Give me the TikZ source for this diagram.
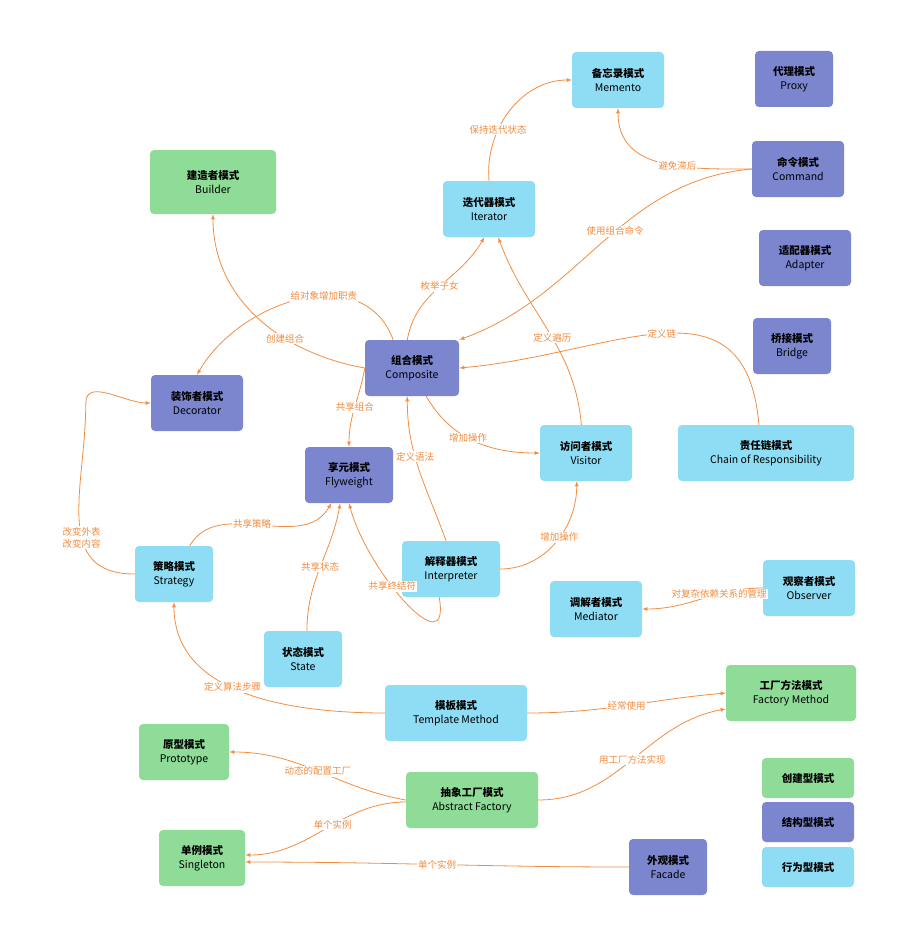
\documentclass[tikz,border=0pt]{standalone}
\usepackage{fontspec}
\setmainfont{Noto Sans CJK SC}
\usetikzlibrary{positioning, calc}
\definecolor{cgreen}{HTML}{8EDC98}
\definecolor{cpurple}{HTML}{7B86CF}
\definecolor{cblue}{HTML}{8EDDF5}
\definecolor{corange}{HTML}{F28C40}
\newcommand{\pat}[2]{\textbf{#1}\\#2}
\begin{document}
\begin{tikzpicture}[x=1pt, y=-1pt,
  box/.style={rectangle, rounded corners=4pt, align=center, minimum height=56pt, inner sep=2pt, font=\fontsize{10.5}{14}\selectfont},
  cre/.style={box, fill=cgreen},
  str/.style={box, fill=cpurple},
  beh/.style={box, fill=cblue},
  lbl/.style={fill=white, inner sep=1pt, font=\fontsize{9.5}{12}\selectfont},
  link/.style={corange, thick, -latex}]
\useasboundingbox (0,0) rectangle (906,947);
% patterns
\node[beh, minimum width=92pt] (memento) at (618,80) {\pat{备忘录模式}{Memento}};
\node[str, minimum width=78pt] (proxy) at (794,79) {\pat{代理模式}{Proxy}};
\node[cre, minimum width=126pt, minimum height=64pt] (builder) at (213,182) {\pat{建造者模式}{Builder}};
\node[beh, minimum width=92pt] (iterator) at (489,209) {\pat{迭代器模式}{Iterator}};
\node[str, minimum width=92pt] (command) at (798,169) {\pat{命令模式}{Command}};
\node[str, minimum width=92pt] (adapter) at (805,258) {\pat{适配器模式}{Adapter}};
\node[str, minimum width=78pt] (bridge) at (792,346) {\pat{桥接模式}{Bridge}};
\node[str, minimum width=94pt] (composite) at (412,368) {\pat{组合模式}{Composite}};
\node[str, minimum width=92pt] (decorator) at (197,403) {\pat{装饰者模式}{Decorator}};
\node[beh, minimum width=92pt] (visitor) at (586,453) {\pat{访问者模式}{Visitor}};
\node[beh, minimum width=176pt] (chain) at (766,453) {\pat{责任链模式}{Chain of Responsibility}};
\node[str, minimum width=88pt] (flyweight) at (349,475) {\pat{享元模式}{Flyweight}};
\node[beh, minimum width=78pt] (strategy) at (174,574) {\pat{策略模式}{Strategy}};
\node[beh, minimum width=98pt] (interpreter) at (451,569) {\pat{解释器模式}{Interpreter}};
\node[beh, minimum width=92pt] (mediator) at (596,609) {\pat{调解者模式}{Mediator}};
\node[beh, minimum width=92pt] (observer) at (809,588) {\pat{观察者模式}{Observer}};
\node[beh, minimum width=78pt] (state) at (303,659) {\pat{状态模式}{State}};
\node[beh, minimum width=142pt] (template) at (456,713) {\pat{模板模式}{Template Method}};
\node[cre, minimum width=130pt] (factory) at (791,693) {\pat{工厂方法模式}{Factory Method}};
\node[cre, minimum width=90pt] (prototype) at (184,752) {\pat{原型模式}{Prototype}};
\node[cre, minimum width=132pt] (abstract) at (472,800) {\pat{抽象工厂模式}{Abstract Factory}};
\node[cre, minimum width=86pt] (singleton) at (202,858) {\pat{单例模式}{Singleton}};
\node[str, minimum width=78pt] (facade) at (668,867) {\pat{外观模式}{Facade}};
% legend
\node[cre, minimum width=92pt, minimum height=40pt] (lgcre) at (808,778) {\textbf{创建型模式}};
\node[str, minimum width=92pt, minimum height=40pt] (lgstr) at (808,822) {\textbf{结构型模式}};
\node[beh, minimum width=92pt, minimum height=40pt] (lgbeh) at (808,867) {\textbf{行为型模式}};
% relations
\draw[link] (iterator.north) to[out=95, in=180] node[lbl, pos=0.35] {保持迭代状态} (memento.west);
\draw[link] (command.west) to[out=180, in=-90, looseness=1.1] node[lbl, pos=0.4] {避免滞后} (memento.south);
\draw[link] (command.west) to[out=185, in=20] node[lbl, pos=0.45] {使用组合命令} (composite.north east);
\draw[link] (composite.west) to[out=170, in=-90] node[lbl, pos=0.35] {创建组合} (builder.south);
\draw[link] ($(composite.north west)!0.3!(composite.north east)$) to[out=110, in=60, looseness=1.1] node[lbl, pos=0.4] {给对象增加职责} (decorator.north);
\draw[link] ($(composite.north west)!0.45!(composite.north east)$) to[out=80, in=-120] node[lbl, pos=0.5] {枚举子女} ($(iterator.south west)!0.45!(iterator.south east)$);
\draw[link] ($(chain.north west)!0.46!(chain.north east)$) to[out=95, in=5, looseness=1.3] node[lbl, pos=0.5] {定义链} (composite.east);
\draw[link] ($(visitor.north west)!0.45!(visitor.north east)$) to[out=95, in=-70] node[lbl, pos=0.45] {定义遍历} ($(iterator.south west)!0.6!(iterator.south east)$);
\draw[link] ($(composite.south west)!0.65!(composite.south east)$) to[out=-60, in=180] node[lbl, pos=0.45] {增加操作} (visitor.west);
\draw[link] (composite.west) to[out=-100, in=90] node[lbl, pos=0.5] {共享组合} (flyweight.north);
\draw[link] ($(interpreter.north west)!0.45!(interpreter.north east)$) to[out=110, in=-90] node[lbl, pos=0.6] {定义语法} ($(composite.south west)!0.45!(composite.south east)$);
\draw[link] (interpreter.east) to[out=0, in=-90] node[lbl, pos=0.55] {增加操作} ($(visitor.south west)!0.4!(visitor.south east)$);
\draw[link] (strategy.west) to[out=180, in=-90, looseness=1.2] node[lbl, align=center, pos=0.4] {改变外表\\改变内容} ($(decorator.west)+(-65,0)$) to[out=90, in=180] (decorator.west);
\draw[link] ($(strategy.north west)!0.7!(strategy.north east)$) to[out=60, in=-120] node[lbl, pos=0.45] {共享策略} ($(flyweight.south west)!0.3!(flyweight.south east)$);
\draw[link] ($(state.north west)!0.55!(state.north east)$) to[out=90, in=-100] node[lbl, pos=0.5] {共享状态} ($(flyweight.south west)!0.4!(flyweight.south east)$);
\draw[link] ($(interpreter.south west)!0.38!(interpreter.south east)$) to[out=-80, in=-75, looseness=1.4] node[lbl, pos=0.6] {共享终结符} ($(flyweight.south west)!0.5!(flyweight.south east)$);
\draw[link] (observer.west) to[out=180, in=0] node[lbl, pos=0.35] {对复杂依赖关系的管理} (mediator.east);
\draw[link] (template.west) to[out=180, in=-90] node[lbl, pos=0.55] {定义算法步骤} (strategy.south);
\draw[link] (template.east) to[out=0, in=185] node[lbl, pos=0.5] {经常使用} (factory.west);
\draw[link] ($(abstract.north west)!0.5!(abstract.south west)$) to[out=170, in=0] node[lbl, pos=0.5] {动态的配置工厂} (prototype.east);
\draw[link] (abstract.east) to[out=0, in=190] node[lbl, pos=0.5] {用工厂方法实现} ($(factory.west)+(0,16)$);
\draw[link] ($(abstract.west)+(0,2)$) to[out=180, in=0] node[lbl, pos=0.45] {单个实例} ($(singleton.east)+(0,-3)$);
\draw[link] (facade.west) to[out=180, in=0] node[lbl, pos=0.5] {单个实例} ($(singleton.east)+(0,4)$);
\end{tikzpicture}
\end{document}
